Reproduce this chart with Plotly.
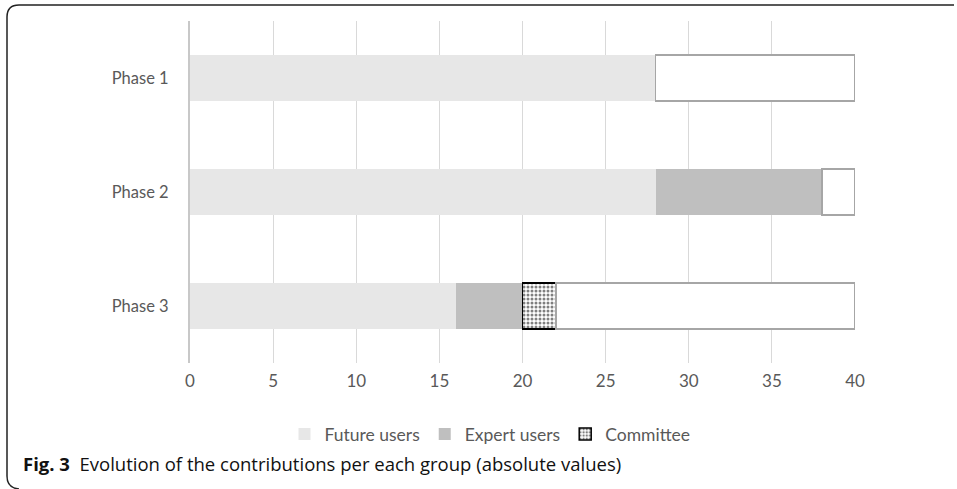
import plotly.graph_objects as go

categories = ["Phase 1", "Phase 2", "Phase 3"]
future_users = [28, 28, 16]
expert_users = [0, 10, 4]
committee = [0, 0, 2]
remainder = [12, 2, 18]
x_ticks = [0, 5, 10, 15, 20, 25, 30, 35, 40]

W, H = 957, 489
def px(x):
    return x / W
def py(y):
    return 1 - y / H

FONT = "Lato, Open Sans, sans-serif"

fig = go.Figure()
fig.add_trace(go.Bar(y=categories, x=future_users, name="Future users", orientation="h",
                     marker=dict(color="#e7e7e7", line=dict(width=0))))
fig.add_trace(go.Bar(y=categories, x=expert_users, name="Expert users", orientation="h",
                     marker=dict(color="#bfbfbf", line=dict(width=0))))
fig.add_trace(go.Bar(y=categories, x=committee, name="Committee", orientation="h",
                     marker=dict(color="white", line=dict(color="black", width=1.5),
                                 pattern=dict(shape=".", fgcolor="black", bgcolor="white",
                                              size=4, solidity=0.45))))
fig.add_trace(go.Bar(y=categories, x=remainder, name="", orientation="h", showlegend=False,
                     marker=dict(color="white", line=dict(color="#a6a6a6", width=1.5))))

frame = (f"M {px(954)},{py(5)} L {px(19)},{py(5)} Q {px(7)},{py(5)} {px(7)},{py(17)} "
         f"L {px(7)},{py(476)} Q {px(7)},{py(488)} {px(19)},{py(489)}")

fig.update_layout(
    width=W, height=H,
    margin=dict(l=0, r=0, t=0, b=0, autoexpand=False),
    paper_bgcolor="white", plot_bgcolor="white",
    barmode="stack", bargap=0.6,
    font=dict(family=FONT, color="#595959", size=16),
    xaxis=dict(domain=[px(190), px(855)], range=[0, 40], tickvals=x_ticks,
               showgrid=True, gridcolor="#d9d9d9", gridwidth=1.3, zeroline=False,
               showline=False, ticks="", ticklabelstandoff=6, automargin=False,
               tickfont=dict(size=17, color="#595959", family=FONT)),
    yaxis=dict(domain=[py(363), py(21)], autorange="reversed", showgrid=False,
               zeroline=False, showline=True, linecolor="#c8c8c8", linewidth=2,
               ticks="", ticklabelstandoff=16, automargin=False,
               tickfont=dict(size=16.5, color="#595959", family=FONT)),
    legend=dict(orientation="h", x=px(490), xanchor="center", y=py(434), yanchor="middle",
                font=dict(size=17.5, color="#595959", family=FONT), traceorder="normal",
                itemwidth=30, bgcolor="rgba(0,0,0,0)"),
    shapes=[dict(type="path", path=frame, xref="paper", yref="paper",
                 line=dict(color="#222222", width=1.5))],
    annotations=[dict(x=px(21), y=py(463), xref="paper", yref="paper", xanchor="left",
                      yanchor="middle", showarrow=False,
                      text="<b>Fig. 3</b>  Evolution of the contributions per each group (absolute values)",
                      font=dict(size=18.5, color="#111111", family="Open Sans, Noto Sans, sans-serif"))],
    hovermode=False,
)

fix = "document.body.style.margin='0'; document.body.style.overflow='hidden';"
fig.write_html("out.html", post_script=fix)
